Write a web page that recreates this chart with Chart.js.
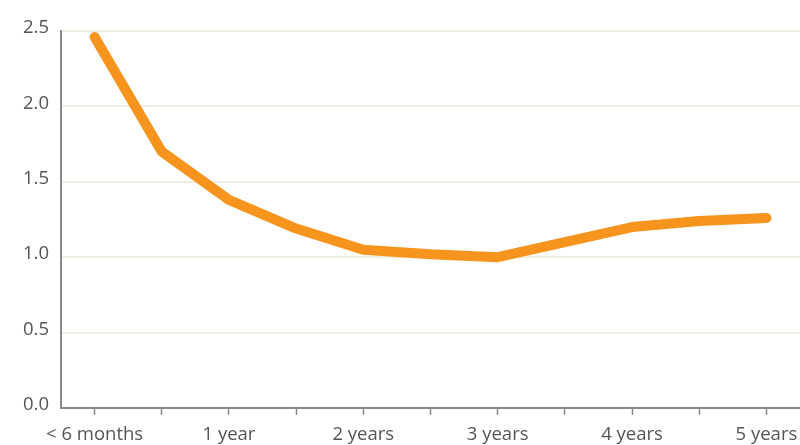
<!DOCTYPE html>
<html>
<head>
<meta charset="utf-8">
<script src="https://cdn.jsdelivr.net/npm/chart.js@4/dist/chart.umd.min.js"></script>
<style>
  html, body { margin: 0; padding: 0; background: #fff; }
  #wrap { width: 800px; height: 445px; }
</style>
</head>
<body>
<div id="wrap"><canvas id="ratio-chart"></canvas></div>
<script>
// half-year steps, only whole years get a label
const periods = ["< 6 months", "18 months", "1 year", "30 months", "2 years", "42 months",
                 "3 years", "54 months", "4 years", "66 months", "5 years"];
const shownLabels = ["< 6 months", "1 year", "2 years", "3 years", "4 years", "5 years"];
const ratio = [2.46, 1.70, 1.38, 1.19, 1.05, 1.02, 1.00, 1.10, 1.20, 1.24, 1.26];
const yTicks = [0, 0.5, 1.0, 1.5, 2.0, 2.5];

new Chart(document.getElementById("ratio-chart"), {
    type: "line",
    data: {
        labels: periods,
        datasets: [{
            data: ratio,
            borderColor: "#f7941d",
            borderWidth: 10,
            borderCapStyle: "round",
            borderJoinStyle: "round",
            pointRadius: 0,
            tension: 0,
        }],
    },
    options: {
        responsive: true,
        maintainAspectRatio: false,
        animation: false,
        layout: { padding: { top: 31, right: 0, bottom: 0, left: 0 } },
        plugins: {
            legend: { display: false },
            tooltip: { enabled: false },
        },
        scales: {
            x: {
                offset: true,
                afterFit: function (scale) {
                    // let the plot run to the right edge
                    scale.height = 37;
                    scale.paddingRight = 0;
                },
                grid: {
                    drawOnChartArea: false,
                    drawTicks: true,
                    tickLength: 7,
                    tickColor: "#888",
                    tickWidth: 1.5,
                },
                border: { color: "#888", width: 2 },
                ticks: {
                    autoSkip: false,
                    maxRotation: 0,
                    padding: 9,
                    color: "#555",
                    font: { family: "Open Sans", size: 18.5 },
                    callback: function (value) {
                        const label = this.getLabelForValue(value);
                        return shownLabels.includes(label) ? label : "";
                    },
                },
            },
            y: {
                min: 0,
                max: 2.5,
                afterFit: function (scale) { scale.width = 61; },
                afterBuildTicks: function (scale) {
                    scale.ticks = yTicks.map(v => ({ value: v }));
                },
                grid: {
                    color: "#eeeee4",
                    lineWidth: 2,
                    drawTicks: false,
                },
                border: { color: "#888", width: 2 },
                ticks: {
                    padding: 12,
                    labelOffset: -3,
                    color: "#555",
                    font: { family: "Open Sans", size: 18.5 },
                    callback: v => v.toFixed(1),
                },
            },
        },
    },
});
</script>
</body>
</html>
